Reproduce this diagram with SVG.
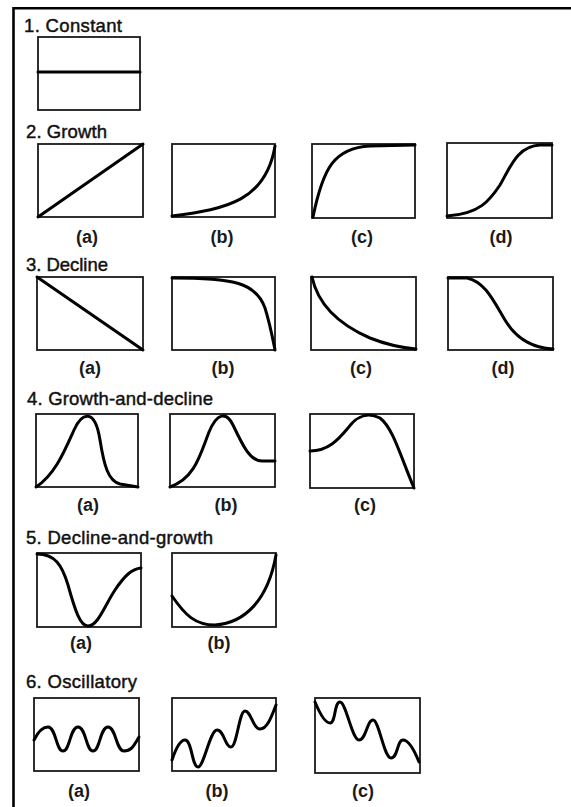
<svg xmlns="http://www.w3.org/2000/svg" width="571" height="807" viewBox="0 0 571 807">
<style>
.bg{fill:#fff}
.frame{fill:none;stroke:#000;stroke-width:2.6}
.box{fill:#fff;stroke:#1a1a1a;stroke-width:1.8}
.curve{fill:none;stroke:#000;stroke-width:3;stroke-linecap:round;stroke-linejoin:round}
.title{font-family:"Liberation Sans",Arial,sans-serif;font-size:18.5px;fill:#111;stroke:#111;stroke-width:0.45}
.lbl{font-family:"Liberation Sans",Arial,sans-serif;font-size:18px;font-weight:bold;fill:#1a1a1a;text-anchor:middle}
</style>
<rect class="bg" x="0" y="0" width="571" height="807"/>
<g id="frame">
<path class="frame" d="M13.5,807 L13.5,8.3 L571,8.3"/>
</g>

<g id="titles">
<text class="title" x="24" y="32" textLength="98">1. Constant</text>
<text class="title" x="26" y="138" textLength="81">2. Growth</text>
<text class="title" x="26" y="271" textLength="82">3. Decline</text>
<text class="title" x="27" y="405" textLength="186">4. Growth-and-decline</text>
<text class="title" x="26" y="544" textLength="187">5. Decline-and-growth</text>
<text class="title" x="26" y="688" textLength="111">6. Oscillatory</text>
</g>

<g id="constant">
<rect class="box" x="38" y="37" width="102" height="73"/>
<path class="curve" d="M38,72 L140,72" stroke-linecap="butt"/>
</g>

<g id="growth-a">
<rect class="box" x="38" y="144" width="105" height="73"/>
<path class="curve" d="M38,217 L143,144"/>
<text class="lbl" x="87" y="243">(a)</text>
</g>
<g id="growth-b">
<rect class="box" x="172" y="144" width="103" height="73"/>
<path class="curve" d="M172,216 C228,209 266,200 275,146"/>
<text class="lbl" x="222" y="243">(b)</text>
</g>
<g id="growth-c">
<rect class="box" x="312" y="144" width="103" height="74"/>
<path class="curve" d="M313,217 C323,168 334,148 370,146 L415,145"/>
<text class="lbl" x="362" y="243">(c)</text>
</g>
<g id="growth-d">
<rect class="box" x="447" y="143" width="105" height="75"/>
<path class="curve" d="M447,216 C480,214 490,200 500,185 C510,168 517,146 540,145 L552,145"/>
<text class="lbl" x="501" y="243">(d)</text>
</g>

<g id="decline-a">
<rect class="box" x="37" y="277" width="106" height="73"/>
<path class="curve" d="M37,277 L143,350"/>
<text class="lbl" x="90" y="374">(a)</text>
</g>
<g id="decline-b">
<rect class="box" x="172" y="277" width="103" height="73"/>
<path class="curve" d="M172,278 C232,278 256,282 265,308 C270,324 273,340 275,350"/>
<text class="lbl" x="223" y="374">(b)</text>
</g>
<g id="decline-c">
<rect class="box" x="311" y="277" width="105" height="73"/>
<path class="curve" d="M312,277 C318,305 340,325 370,338 C390,346 405,348 416,349"/>
<text class="lbl" x="361" y="374">(c)</text>
</g>
<g id="decline-d">
<rect class="box" x="448" y="277" width="105" height="73"/>
<path class="curve" d="M448,278 L467,278 C485,282 493,300 505,320 C517,340 535,348 553,349"/>
<text class="lbl" x="503" y="374">(d)</text>
</g>

<g id="growth-and-decline-a">
<rect class="box" x="36" y="414" width="102" height="73"/>
<path class="curve" d="M36,487 C55,475 65,450 74,430 C82,412 95,408 100,440 C104,465 108,481 120,484 L138,487"/>
<text class="lbl" x="88" y="511">(a)</text>
</g>
<g id="growth-and-decline-b">
<rect class="box" x="170" y="414" width="105" height="73"/>
<path class="curve" d="M170,487 C195,478 200,455 209,432 C217,413 226,411 233,425 C243,446 250,461 262,461 L275,461"/>
<text class="lbl" x="226" y="511">(b)</text>
</g>
<g id="growth-and-decline-c">
<rect class="box" x="310" y="414" width="104" height="74"/>
<path class="curve" d="M310,451 C328,451 338,440 348,428 C358,414 370,413 380,418 C393,428 400,455 414,488"/>
<text class="lbl" x="365" y="511">(c)</text>
</g>

<g id="decline-and-growth-a">
<rect class="box" x="37" y="553" width="104" height="74"/>
<path class="curve" d="M37,554 C55,554 62,565 68,585 C75,610 80,626 88,626 C98,626 105,605 115,590 C125,575 132,569 141,568"/>
<text class="lbl" x="81" y="649">(a)</text>
</g>
<g id="decline-and-growth-b">
<rect class="box" x="172" y="553" width="104" height="74"/>
<path class="curve" d="M172,596 C185,615 195,625 215,625 C245,623 268,600 276,555"/>
<text class="lbl" x="219" y="649">(b)</text>
</g>

<g id="oscillatory-a">
<rect class="box" x="34" y="698" width="105" height="73"/>
<path class="curve" d="M34,740 C38,732 42,727 48,727 C56,727 56,751 63,751 S70,727 78,727 S86,751 93,751 S100,727 108,727 S116,751 124,751 S134,745 139,737"/>
<text class="lbl" x="79" y="797">(a)</text>
</g>
<g id="oscillatory-b">
<rect class="box" x="172" y="698" width="104" height="73"/>
<path class="curve" d="M172,760 C176,748 180,740 185,740 C192,740 192,767 198,767 S210,730 217,730 S225,747 231,747 S239,711 245,711 S253,729 260,729 S271,718 276,705"/>
<text class="lbl" x="217" y="797">(b)</text>
</g>
<g id="oscillatory-c">
<rect class="box" x="315" y="698" width="105" height="75"/>
<path class="curve" d="M315,702 C320,714 325,723 330,723 C336,723 334,702 340,702 S352,740 359,740 S367,720 373,720 S384,758 391,758 S397,740 403,740 S415,752 419,762"/>
<text class="lbl" x="363" y="797">(c)</text>
</g>
</svg>
